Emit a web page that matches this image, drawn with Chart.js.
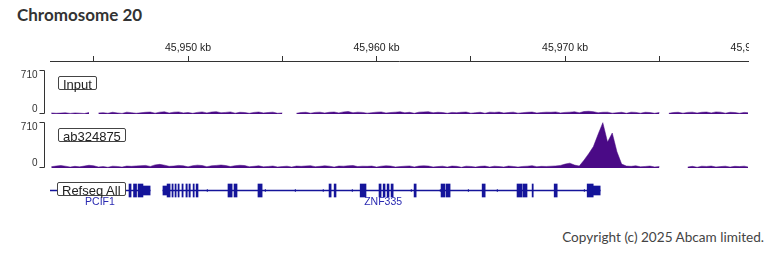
<!DOCTYPE html>
<html>
<head>
<meta charset="utf-8">
<script src="https://cdn.jsdelivr.net/npm/chart.js@4.4.1/dist/chart.umd.min.js"></script>
<style>
  html, body { margin: 0; padding: 0; background: #fff; overflow: hidden; }
  .stage { position: relative; width: 768px; height: 256px; overflow: hidden; background: #fff; }
  .stage canvas { position: absolute; left: 0; }
  .clip { position: absolute; left: 0; overflow: hidden; }
  .title { position: absolute; left: 17px; top: 4px; font: 700 17px Lato, "Noto Sans", sans-serif; color: #333; }
  .copy { position: absolute; right: 4px; top: 229px; font: 13.6px Lato, "Noto Sans", sans-serif; color: #444; }
  .tag { position: absolute; box-sizing: border-box; height: 14px; line-height: 12px; padding: 0 4px;
         border: 1px solid #444; border-radius: 2px; background: #fff; color: #222;
         font: 13px "Liberation Sans", Arial, sans-serif; z-index: 2; white-space: nowrap; }
</style>
</head>
<body>
<div class="stage">
  <div class="title">Chromosome 20</div>
  <div class="clip" style="top:30px;width:749px;height:34px"><canvas id="ruler" width="820" height="34" style="top:0"></canvas></div>
  <canvas id="trackInput" width="820" height="52" style="top:66px"></canvas>
  <canvas id="trackAb" width="820" height="54" style="top:118px"></canvas>
  <canvas id="genes" width="820" height="46" style="top:170px"></canvas>
  <div class="tag" style="left:58px;top:76px">Input</div>
  <div class="tag" style="left:58px;top:128px">ab324875</div>
  <div class="tag" style="left:57px;top:182px">Refseq All</div>
  <div class="copy">Copyright (c) 2025 Abcam limited.</div>
</div>
<script>
// visible window, kb on chr20
const VIEW_START = 45942.68;
const VIEW_END = 45979.70;

// ruler ticks
const tickKb = [45945, 45950, 45955, 45960, 45965, 45970, 45975, 45980];
const tickLabels = ['', '45,950 kb', '', '45,960 kb', '', '45,970 kb', '', '45,980 kb'];

// coverage bins (0.25 kb each, starting at BIN_START)
const BIN_START = 45942.75;
const BIN_SIZE = 0.25;
const RANGE_MIN = 0;
const RANGE_MAX = 710;

const inputValues = [
  18, 12, 15, 20, 10, 18, 14, 8, 24, null,
  16, 22, 12, 28, 18, 10, 30, 22, 12, 20,
  28, 32, 14, 30, 36, 16, 30, 34, 18, 24,
  12, 26, 34, 18, 32, 38, 20, 26, 34, 14,
  28, 24, 12, 26, 32, 18, 24, 30, 12, 18,
  null, null, 12, 24, 28, 14, 26, 30, 16, 28,
  32, 18, 34, 40, 20, 30, 26, 14, 22, 30,
  34, 16, 24, 30, 36, 20, 28, 12, 30, 34,
  38, 20, 28, 24, 12, 26, 22, 28, 32, 14,
  22, 28, 12, 30, 26, 32, 16, 24, 30, 14,
  22, 28, 32, 16, 24, 30, 28, 34, 18, 26,
  30, 36, 20, 40, 44, 38, 20, 28, 30, 14,
  22, 28, 12, 30, 26, 14, 28, 24, 12, 24,
  null, 12, 24, 28, 14, 26, 30, 16, 28, 32,
  18, 34, 30, 14, 28, 24, 12, 26, 20
];

const abValues = [
  20, 30, 38, 28, 14, 26, 18, 30, 42, 34,
  16, 22, 12, 28, 24, 14, 30, 26, 32, 36,
  40, 24, 48, 56, 44, 26, 30, 40, 34, 18,
  36, 44, 38, 20, 34, 40, 46, 38, 22, 36,
  42, 38, 20, 26, 34, 18, 24, 30, 16, 22,
  28, 14, 30, 26, 32, 36, 20, 26, 34, 28,
  14, 30, 28, 34, 38, 22, 28, 26, 30, 14,
  28, 34, 30, 16, 22, 28, 32, 16, 30, 34,
  30, 16, 22, 28, 14, 30, 26, 12, 28, 24,
  14, 26, 30, 14, 28, 22, 16, 30, 24, 14,
  24, 28, 36, 20, 26, 24, 28, 32, 40, 60,
  75, 45, 30, 120, 220, 330, 520, 700, 400, 540,
  250, 60, 30, 26, 34, 18, 24, 30, 16, 22,
  null, null, null, null, null, 14, 26, 12, 28, 24,
  30, 16, 22, 28, 14, 26, 22, 28, 14
];

// RefSeq genes (kb)
const geneNames = ['PCIF1', 'ZNF335'];
const geneLabelKb = [45945.33, 45960.35];
const intronSpans = [[45942.68, 45947.99], [45948.67, 45971.86]];
const utrSpans = [[45947.61, 45947.99], [45948.67, 45948.89], [45971.49, 45971.86]];
const cdsSpans = [
  [45946.87, 45946.98], [45947.11, 45947.27], [45947.35, 45947.61],
  [45948.89, 45949.05], [45949.15, 45949.21], [45949.31, 45949.37], [45949.47, 45949.53],
  [45949.68, 45949.74], [45949.89, 45949.96], [45950.05, 45950.12], [45950.27, 45950.33],
  [45950.43, 45950.53], [45952.12, 45952.34], [45952.44, 45952.60], [45953.71, 45953.93],
  [45957.48, 45957.59], [45957.75, 45957.85], [45959.13, 45959.44],
  [45960.13, 45960.24], [45960.35, 45960.45], [45960.56, 45960.66], [45960.77, 45960.88],
  [45961.99, 45962.10], [45963.42, 45963.63], [45963.69, 45963.90], [45965.60, 45965.76],
  [45967.45, 45967.72], [45967.77, 45967.98], [45968.25, 45968.31], [45969.42, 45969.58],
  [45971.17, 45971.49]
];
const strandMarkKb = [45951.01, 45954.09, 45955.68, 45957.16, 45958.70, 45961.83, 45963.37, 45964.86, 45966.39, 45971.01];

const SIGNAL_COLOR = '#4a0a86';
const GENE_COLOR = '#14149a';
const LABEL_COLOR = '#2a2ab2';

Chart.defaults.font.family = '"Liberation Sans", Arial, sans-serif';

const common = {
  responsive: false,
  animation: false,
  events: [],
  plugins: { legend: { display: false }, tooltip: { enabled: false } }
};

// ruler
new Chart(document.getElementById('ruler'), {
  type: 'line',
  data: { datasets: [] },
  options: {
    ...common,
    layout: { padding: { left: 50, right: 72, top: 0, bottom: 0 } },
    scales: {
      x: {
        type: 'linear', position: 'top', min: VIEW_START, max: VIEW_END,
        afterBuildTicks: s => { s.ticks = tickKb.map(v => ({ value: v })); },
        afterFit: s => { s.height = 31; },
        ticks: {
          autoSkip: false, maxRotation: 0, padding: 2, color: '#222', font: { size: 10.5 },
          callback: (v) => { const i = tickKb.indexOf(v); return i >= 0 ? tickLabels[i] : ''; }
        },
        grid: { drawOnChartArea: false, tickLength: 5, color: '#333' },
        border: { color: '#333', width: 1 }
      },
      y: { display: false }
    }
  }
});

// data range bracket + labels
const rangePlugin = {
  id: 'rangeBracket',
  afterDraw(chart) {
    const y = chart.scales.y, ctx = chart.ctx;
    const top = Math.round(y.getPixelForValue(RANGE_MAX)) + 0.5;
    const bottom = Math.round(y.getPixelForValue(RANGE_MIN)) - 0.5;
    const bx = chart.chartArea.left - 5.5;
    ctx.save();
    ctx.strokeStyle = '#333';
    ctx.lineWidth = 1;
    ctx.beginPath();
    ctx.moveTo(bx - 5, top); ctx.lineTo(bx, top); ctx.lineTo(bx, bottom); ctx.lineTo(bx - 5, bottom);
    ctx.stroke();
    ctx.fillStyle = '#333';
    ctx.font = '10px "Liberation Sans", Arial, sans-serif';
    ctx.textAlign = 'right';
    ctx.textBaseline = 'middle';
    ctx.fillText(String(RANGE_MAX), bx - 7, top + 5);
    ctx.fillText(String(RANGE_MIN), bx - 7, bottom - 4);
    ctx.restore();
  }
};

function makeTrack(id, values) {
  const pts = values.map((v, i) => ({ x: BIN_START + i * BIN_SIZE, y: v }));
  return new Chart(document.getElementById(id), {
    type: 'line',
    data: {
      datasets: [{
        data: pts, fill: 'origin', spanGaps: false, tension: 0,
        borderColor: SIGNAL_COLOR, backgroundColor: SIGNAL_COLOR, borderWidth: 0.5, pointRadius: 0
      }]
    },
    options: {
      ...common,
      layout: { padding: { left: 50, right: 72, top: 4, bottom: 4 } },
      scales: {
        x: { type: 'linear', display: false, min: VIEW_START, max: VIEW_END },
        y: { display: false, min: RANGE_MIN, max: RANGE_MAX }
      }
    },
    plugins: [rangePlugin]
  });
}
makeTrack('trackInput', inputValues);
makeTrack('trackAb', abValues);

// gene names under the models
const geneLabelPlugin = {
  id: 'geneLabels',
  afterDatasetsDraw(chart) {
    const ctx = chart.ctx, x = chart.scales.x;
    ctx.save();
    ctx.fillStyle = LABEL_COLOR;
    ctx.font = '10.5px "Liberation Sans", Arial, sans-serif';
    ctx.textAlign = 'center';
    ctx.textBaseline = 'middle';
    geneNames.forEach((n, i) => ctx.fillText(n, x.getPixelForValue(geneLabelKb[i]), chart.chartArea.bottom - 0.5));
    ctx.restore();
  }
};

const spanData = spans => spans.map(([s, e]) => ({ x: [s, e], y: 'gene' }));
new Chart(document.getElementById('genes'), {
  type: 'bar',
  data: {
    labels: ['gene'],
    datasets: [
      { data: spanData(intronSpans), barThickness: 1, backgroundColor: GENE_COLOR, grouped: false, indexAxis: 'y' },
      { data: spanData(utrSpans), barThickness: 9, backgroundColor: GENE_COLOR, grouped: false, indexAxis: 'y' },
      { data: spanData(cdsSpans), barThickness: 13, backgroundColor: GENE_COLOR, grouped: false, indexAxis: 'y' },
      {
        type: 'scatter', data: strandMarkKb.map(k => ({ x: k, y: 'gene' })),
        pointStyle: 'triangle', rotation: -90, pointRadius: 1.6, borderWidth: 0,
        backgroundColor: GENE_COLOR, borderColor: GENE_COLOR
      }
    ]
  },
  options: {
    ...common,
    indexAxis: 'y',
    layout: { padding: { left: 50, right: 72, top: 8, bottom: 13 } },
    scales: {
      x: { type: 'linear', display: false, min: VIEW_START, max: VIEW_END },
      y: { type: 'category', display: false, labels: ['gene'], offset: true }
    }
  },
  plugins: [geneLabelPlugin]
});
</script>
</body>
</html>
